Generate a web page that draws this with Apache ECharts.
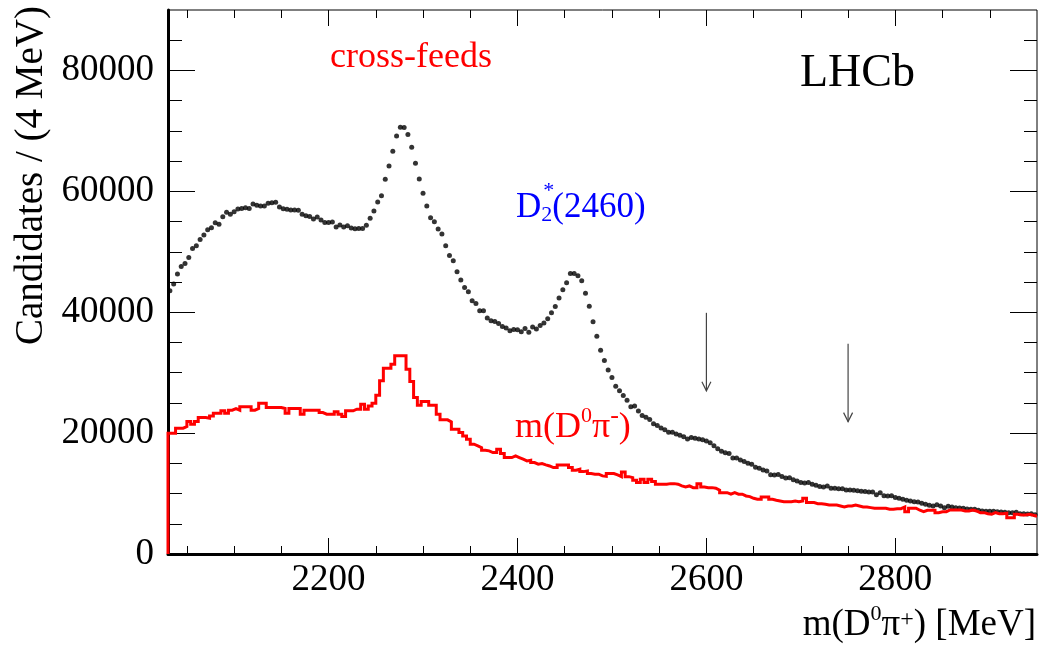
<!DOCTYPE html>
<html><head><meta charset="utf-8">
<script src="https://cdn.jsdelivr.net/npm/echarts@6.0.0/dist/echarts.min.js"></script>
<style>html,body{margin:0;padding:0;background:#fff}#c{width:1041px;height:647px}</style>
</head><body><div id="c"></div>
<script>
// ---- axis ranges / tick values ----
const X_MIN = 2030, X_MAX = 2950, BIN_WIDTH = 4;
const Y_MIN = 0, Y_MAX = 90000;
const xMajorTicks = [2200, 2400, 2600, 2800];
const xMinorTicks = [2050, 2100, 2150, 2250, 2300, 2350, 2450, 2500, 2550, 2650, 2700, 2750, 2850, 2900];
const yMajorTicks = [0, 20000, 40000, 60000, 80000];
const yMinorTicks = [5000, 10000, 15000, 25000, 30000, 35000, 45000, 50000, 55000, 65000, 70000, 75000, 85000];

// ---- data: candidates per 4 MeV bin, bins from 2030 to 2950 ----
const dataValues = [
  43550, 44660, 46320, 47580, 48080, 49070, 50560, 51000, 52050, 52770,
  53650, 53990, 54810, 54540, 55810, 56520, 56190, 56640, 57080, 57180,
  57300, 57180, 57910, 57680, 57570, 57570, 58010, 58130, 58180, 57410,
  57130, 57020, 56910, 56910, 56850, 56190, 55970, 55830, 55430, 55760,
  55260, 54860, 54860, 54930, 54100, 54430, 54100, 54320, 53940, 53820,
  53870, 53870, 54370, 55530, 56750, 58240, 59280, 61980, 64200, 66620,
  69170, 70600, 70550, 69390, 67290, 64640, 62050, 59670, 57580, 55640,
  54980, 53770, 52940, 51000, 49400, 48520, 46700, 45340, 44100, 43390,
  41900, 41450, 40240, 40240, 39030, 38580, 38470, 38140, 37640, 37370,
  36930, 37140, 37090, 36760, 37310, 36700, 37540, 37210, 37810, 38200,
  38920, 39910, 40960, 42350, 43700, 44880, 46420, 46420, 46040, 45210,
  43140, 41000, 38420, 36020, 33700, 32030, 30450, 29200, 27740, 26990,
  26220, 25450, 24370, 24480, 23650, 22930, 22630, 22250, 21560, 21250,
  20830, 20550, 20140, 20140, 19870, 19650, 19400, 19040, 19260, 19160,
  19040, 18900, 18680, 18400, 17910, 17420, 17000, 16750, 16610, 15900,
  15870, 15540, 15320, 15030, 14850, 14350, 14190, 13880, 13720, 13100,
  13080, 13140, 12830, 12580, 12600, 12300, 12090, 11810, 11760, 11810,
  11540, 11380, 11150, 11100, 11260, 10880, 10880, 10810, 10810, 10600,
  10600, 10550, 10480, 10380, 10320, 10270, 10270, 9820, 10150, 9650,
  9600, 9640, 9330, 9220, 9060, 8890, 8780, 8660, 8610, 8400,
  8230, 8060, 7950, 8160, 7950, 7670, 7900, 7780, 7670, 7620,
  7570, 7450, 7400, 7400, 7240, 7120, 7070, 7070, 7070, 7000,
  6960, 6900, 6840, 6840, 6900, 6670, 6670, 6620, 6670, 6490
];
const crossFeedValues = [
  19980, 19980, 20810, 20810, 21080, 21910, 21470, 21910, 22570, 22570,
  22470, 22850, 23300, 23300, 23680, 23300, 23800, 24070, 23800, 24350,
  24350, 24350, 23800, 24070, 24960, 24960, 24230, 24230, 24230, 24230,
  24070, 23300, 24070, 24070, 24070, 23130, 23800, 23800, 23800, 23800,
  23400, 23130, 23130, 23130, 23520, 23130, 22740, 23680, 23680, 23960,
  23960, 24790, 23960, 24500, 24960, 26280, 28650, 30750, 30750, 31410,
  32790, 32790, 32790, 30580, 28530, 25880, 24620, 25220, 25220, 24620,
  24620, 23130, 22190, 22190, 21860, 20650, 20650, 20090, 19540, 18990,
  18160, 17880, 17600, 17170, 17060, 16780, 16780, 17340, 16610, 15950,
  15950, 16230, 15950, 15680, 15400, 15510, 15120, 14850, 14950, 14740,
  14570, 14290, 14290, 14740, 14740, 14740, 14290, 13860, 14020, 13630,
  13740, 13300, 13200, 13200, 12920, 12850, 13300, 13300, 13080, 12800,
  13580, 12800, 12640, 12200, 11810, 12370, 11810, 12370, 11980, 11540,
  11540, 11540, 11640, 11640, 11540, 11260, 11100, 11260, 10980, 10980,
  11640, 11100, 10980, 10980, 10880, 10550, 10150, 10150, 9890, 10150,
  9890, 9890, 9600, 9490, 9220, 9060, 9060, 9440, 9440, 9060,
  8890, 8780, 8660, 8660, 8660, 8780, 8660, 8780, 9220, 8500,
  8500, 8330, 8330, 8230, 8110, 8110, 8110, 7950, 7780, 7950,
  7950, 8110, 7950, 7780, 7780, 7670, 7570, 7570, 7570, 7570,
  7400, 7400, 7500, 7500, 7780, 7000, 7570, 7570, 7240, 7000,
  7240, 7240, 7240, 6840, 7000, 7000, 7290, 7290, 7290, 7290,
  7120, 7120, 7290, 7120, 6840, 6840, 6670, 6570, 6840, 6670,
  6670, 6740, 6010, 6010, 6570, 6460, 6460, 6570, 6410, 6290
];
// arrows marking the two structures: x position, top of shaft, arrow tip
const arrowX = [2600, 2750];
const arrowTop = [39900, 34800];
const arrowTip = [27000, 21900];

// ---- build series data ----
const binCenter = i => X_MIN + BIN_WIDTH * (i + 0.5);
const dataPoints = dataValues.map((v, i) => [binCenter(i), v]);
const histLine = [[X_MIN, 0], [X_MIN, crossFeedValues[0]]]
  .concat(crossFeedValues.map((v, i) => [binCenter(i), v]))
  .concat([[X_MAX, crossFeedValues[crossFeedValues.length - 1]]]);
const arrowData = arrowX.map((x, i) => [x, arrowTop[i], arrowTip[i]]);

const FONT = '"Liberation Serif", "Times New Roman", serif';

// text made of pieces (for super/subscripts); baseline-based placement
const measureCtx = document.createElement('canvas').getContext('2d');
function pieces(parts, x, baseline, align, color) {
  const widths = parts.map(p => { measureCtx.font = p.size + 'px ' + FONT; return measureCtx.measureText(p.t).width; });
  const total = widths.reduce((a, b) => a + b, 0);
  let cx = align === 'right' ? x - total : x;
  return parts.map((p, i) => {
    const el = { type: 'text', x: cx + (p.dx || 0), y: baseline + (p.dy || 0) - 0.34 * p.size, z: 100,
      style: { text: p.t, fontSize: p.size, fontFamily: FONT, fill: color, align: 'left', verticalAlign: 'middle' } };
    if (!p.overlay) cx += widths[i];
    return el;
  });
}

function xAx(pos, ticks, len, withLabels, lineW) {
  return {
    type: 'value', min: X_MIN, max: X_MAX, position: pos, gridIndex: 0,
    axisLine: { show: lineW > 0, onZero: false, lineStyle: { color: '#000', width: lineW } },
    axisTick: { show: true, inside: true, length: len, customValues: ticks, lineStyle: { color: '#000', width: 1 } },
    axisLabel: withLabels ? { show: true, customValues: ticks, formatter: v => String(v),
      fontFamily: FONT, fontSize: 37, color: '#000', margin: 8 } : { show: false },
    splitLine: { show: false }, minorTick: { show: false }
  };
}
function yAx(pos, ticks, len, withLabels, lineW) {
  return {
    type: 'value', min: Y_MIN, max: Y_MAX, position: pos, gridIndex: 0,
    axisLine: { show: lineW > 0, onZero: false, lineStyle: { color: '#000', width: lineW } },
    axisTick: { show: true, inside: true, length: len, customValues: ticks, lineStyle: { color: '#000', width: 1 } },
    axisLabel: withLabels ? { show: true, customValues: ticks, formatter: v => String(v),
      fontFamily: FONT, fontSize: 37, color: '#000', margin: 14 } : { show: false },
    splitLine: { show: false }, minorTick: { show: false }
  };
}

const graphics = [
  { type: 'text', x: 330, y: 58, z: 100, style: { text: 'cross-feeds', fill: '#ff0000', fontSize: 36, fontFamily: FONT, align: 'left', verticalAlign: 'middle' } },
  { type: 'text', x: 800, y: 74, z: 100, style: { text: 'LHCb', fill: '#000', fontSize: 46, fontFamily: FONT, align: 'left', verticalAlign: 'middle' } },
  { type: 'text', x: 32, y: 6, rotation: Math.PI / 2, z: 100, style: { text: 'Candidates / (4 MeV)', fill: '#000', fontSize: 39, fontFamily: FONT, align: 'right', verticalAlign: 'middle' } }
]
.concat(pieces([
  { t: 'D', size: 35 },
  { t: '*', size: 22, dy: -21, dx: 2, overlay: true },
  { t: '2', size: 22, dy: 3 },
  { t: '(2460)', size: 35 }
], 516, 220, 'left', '#0000ff'))
.concat(pieces([
  { t: 'm(D', size: 36 },
  { t: '0', size: 22, dy: -16 },
  { t: 'π', size: 36 },
  { t: '-', size: 26, dy: -15 },
  { t: ')', size: 36 }
], 515, 440, 'left', '#ff0000'))
.concat(pieces([
  { t: 'm(D', size: 37 },
  { t: '0', size: 22, dy: -16 },
  { t: 'π', size: 37 },
  { t: '+', size: 24, dy: -10 },
  { t: ') [MeV]', size: 37 }
], 1036, 638, 'right', '#000'));

const chart = echarts.init(document.getElementById('c'), null, { renderer: 'canvas' });
chart.setOption({
  animation: false,
  backgroundColor: '#fff',
  grid: { left: 168, right: 4, top: 10, bottom: 93, show: true, borderColor: '#000', borderWidth: 1, backgroundColor: 'transparent' },
  xAxis: [
    xAx('bottom', xMajorTicks, 16, true, 3),
    xAx('bottom', xMinorTicks, 8, false, 0),
    xAx('top', xMajorTicks, 16, false, 0),
    xAx('top', xMinorTicks, 8, false, 0)
  ],
  yAxis: [
    yAx('left', yMajorTicks, 27, true, 3),
    yAx('left', yMinorTicks, 14, false, 0),
    yAx('right', yMajorTicks, 27, false, 0),
    yAx('right', yMinorTicks, 13, false, 0)
  ],
  series: [
    { name: 'cross-feeds', type: 'line', step: 'middle', xAxisIndex: 0, yAxisIndex: 0,
      data: histLine, symbol: 'none', showSymbol: false,
      lineStyle: { color: '#ff0000', width: 3, join: 'miter' }, silent: true },
    { name: 'data', type: 'scatter', xAxisIndex: 0, yAxisIndex: 0, data: dataPoints,
      symbol: 'circle', symbolSize: 5, itemStyle: { color: '#000' }, silent: true },
    { name: 'arrows', type: 'custom', xAxisIndex: 0, yAxisIndex: 0, data: arrowData,
      encode: { x: 0, y: [1, 2] }, silent: true,
      renderItem: function (params, api) {
        const x = api.value(0);
        const p1 = api.coord([x, api.value(1)]);
        const p2 = api.coord([x, api.value(2)]);
        const st = { stroke: '#444', lineWidth: 1.2, fill: null };
        return { type: 'group', children: [
          { type: 'line', shape: { x1: p1[0], y1: p1[1], x2: p2[0], y2: p2[1] }, style: st },
          { type: 'polyline', shape: { points: [[p2[0] - 4.5, p2[1] - 9], [p2[0], p2[1]], [p2[0] + 4.5, p2[1] - 9]] }, style: st }
        ] };
      } }
  ],
  graphic: graphics
});
</script>
</body></html>
